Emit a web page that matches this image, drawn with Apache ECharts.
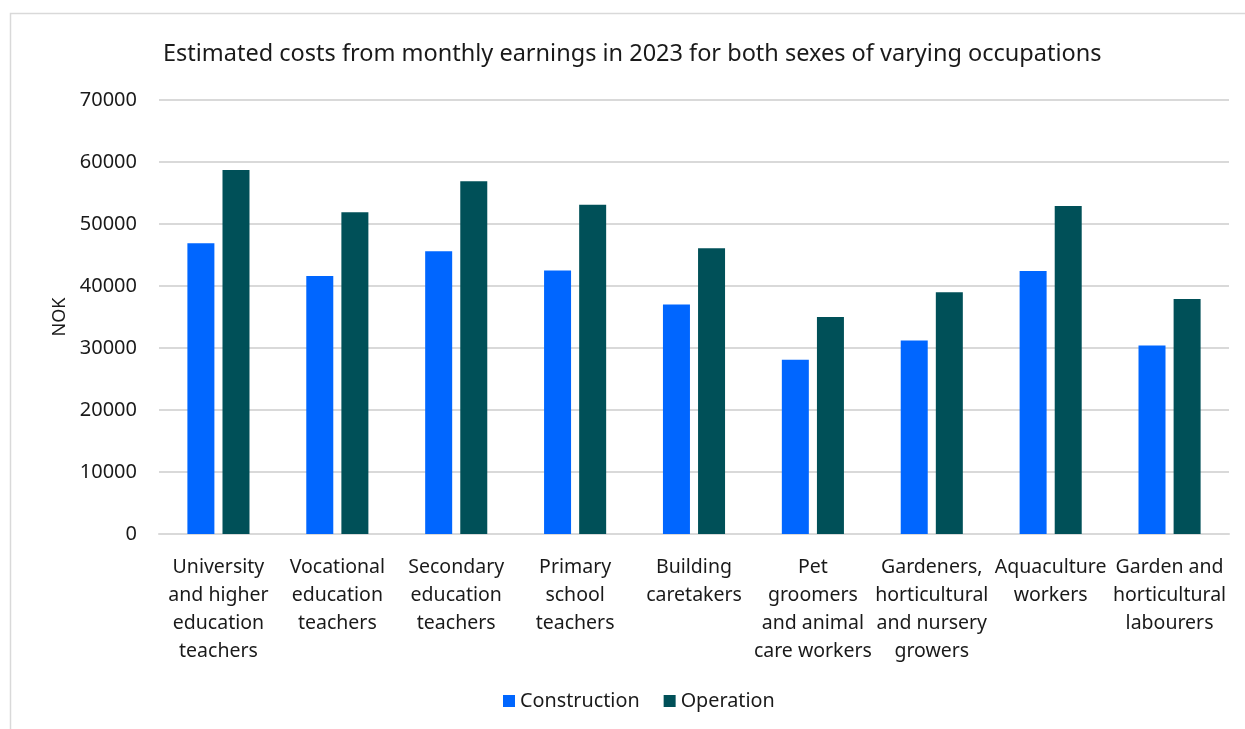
<!DOCTYPE html>
<html>
<head>
<meta charset="utf-8">
<script src="https://cdn.jsdelivr.net/npm/echarts@6/dist/echarts.min.js"></script>
<style>
html,body{margin:0;padding:0;background:#fff;}
#chart{width:1245px;height:729px;}
</style>
</head>
<body>
<div id="chart"></div>
<script>
const categories = [
  "University\nand higher\neducation\nteachers",
  "Vocational\neducation\nteachers",
  "Secondary\neducation\nteachers",
  "Primary\nschool\nteachers",
  "Building\ncaretakers",
  "Pet\ngroomers\nand animal\ncare workers",
  "Gardeners,\nhorticultural\nand nursery\ngrowers",
  "Aquaculture\nworkers",
  "Garden and\nhorticultural\nlabourers"
];
const construction = [46900, 41600, 45600, 42500, 37000, 28100, 31200, 42400, 30400];
const operation = [58700, 51900, 56900, 53100, 46100, 35000, 39000, 52900, 37900];
const titleText = "Estimated costs from monthly earnings in 2023 for both sexes of varying occupations";
const yAxisName = "NOK";

const FONT = "'Noto Sans', sans-serif";
const chart = echarts.init(document.getElementById('chart'), null, {renderer: 'canvas'});
chart.setOption({
  animation: false,
  textStyle: {fontFamily: FONT},
  title: {
    text: titleText,
    left: 158,
    top: 37,
    textStyle: {fontFamily: FONT, fontSize: 23.5, fontWeight: 'normal', color: '#1a1a1a'}
  },
  graphic: [{
    type: 'rect',
    shape: {x: 10.5, y: 13.5, width: 1400, height: 900},
    style: {fill: null, stroke: '#d9d9d9', lineWidth: 1.5},
    silent: true
  }],
  legend: {
    bottom: 13,
    left: 498,
    itemWidth: 12,
    itemHeight: 12,
    itemGap: 24,
    icon: 'rect',
    textStyle: {fontFamily: FONT, fontSize: 19.8, color: '#1a1a1a'},
    data: ['Construction', 'Operation']
  },
  grid: {left: 159, right: 16, top: 100, bottom: 195, containLabel: false},
  xAxis: {
    type: 'category',
    data: categories,
    axisLine: {show: true, lineStyle: {color: '#d9d9d9', width: 2}},
    axisTick: {show: false},
    axisLabel: {
      interval: 0,
      margin: 20,
      fontFamily: FONT,
      fontSize: 19.5,
      lineHeight: 27.7,
      color: '#1a1a1a'
    }
  },
  yAxis: {
    type: 'value',
    min: 0,
    max: 70000,
    interval: 10000,
    name: yAxisName,
    nameLocation: 'middle',
    nameGap: 86,
    nameRotate: 90,
    nameTextStyle: {fontFamily: FONT, fontSize: 18, color: '#1a1a1a'},
    axisLine: {show: false},
    axisTick: {show: false},
    axisLabel: {margin: 22, fontFamily: FONT, fontSize: 20, color: '#1a1a1a', formatter: v => String(v)},
    splitLine: {lineStyle: {color: '#d9d9d9', width: 2}}
  },
  series: [
    {
      name: 'Construction',
      type: 'bar',
      data: construction,
      barWidth: 27,
      barGap: '30%',
      itemStyle: {color: '#0066ff'}
    },
    {
      name: 'Operation',
      type: 'bar',
      data: operation,
      barWidth: 27,
      barGap: '30%',
      itemStyle: {color: '#005058'}
    }
  ]
});
</script>
</body>
</html>
